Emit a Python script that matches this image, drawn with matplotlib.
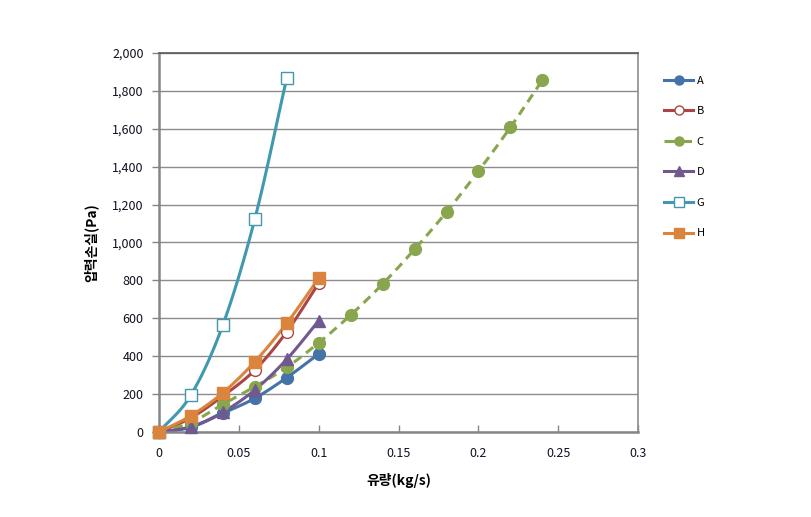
import numpy as np
import matplotlib.pyplot as plt
from matplotlib.ticker import FuncFormatter

plt.rcParams['font.family'] = ['Noto Sans CJK KR', 'DejaVu Sans']

# flow rate (kg/s) and pressure loss (Pa)
x_short = [0, 0.02, 0.04, 0.06, 0.08, 0.1]
x_long = [0, 0.02, 0.04, 0.06, 0.08, 0.1, 0.12, 0.14, 0.16, 0.18, 0.2, 0.22, 0.24]
x_g = [0, 0.02, 0.04, 0.06, 0.08]

a_vals = [0, 25, 99, 178, 287, 412]
b_vals = [0, 75, 190, 327, 529, 785]
c_vals = [0, 50, 146, 239, 341, 471, 617, 781, 964, 1161, 1377, 1608, 1857]
d_vals = [0, 28, 105, 222, 384, 587]
g_vals = [0, 195, 565, 1124, 1868]
h_vals = [0, 86, 207, 371, 574, 811]


def smooth(xs, ys, n=20):
    # catmull-rom style curve through the points (like Excel smoothed lines)
    xs = np.asarray(xs, float)
    ys = np.asarray(ys, float)
    px = np.concatenate([[2 * xs[0] - xs[1]], xs, [2 * xs[-1] - xs[-2]]])
    py = np.concatenate([[2 * ys[0] - ys[1]], ys, [2 * ys[-1] - ys[-2]]])
    ox, oy = [], []
    t = np.linspace(0, 1, n)
    for i in range(1, len(px) - 2):
        for p, out in ((px, ox), (py, oy)):
            p0, p1, p2, p3 = p[i - 1], p[i], p[i + 1], p[i + 2]
            c1 = p1 + (p2 - p0) / 6
            c2 = p2 - (p3 - p1) / 6
            out.extend((1 - t) ** 3 * p1 + 3 * (1 - t) ** 2 * t * c1
                       + 3 * (1 - t) * t ** 2 * c2 + t ** 3 * p2)
    return np.array(ox), np.array(oy)


series = [
    ('A', x_short, a_vals, '#4572A7', 'o', '#4572A7', '-'),
    ('B', x_short, b_vals, '#AA4643', 'o', 'white', '-'),
    ('C', x_long, c_vals, '#89A54E', 'o', '#89A54E', '--'),
    ('D', x_short, d_vals, '#71588F', '^', '#71588F', '-'),
    ('G', x_g, g_vals, '#4198AF', 's', 'white', '-'),
    ('H', x_short, h_vals, '#DB843D', 's', '#DB843D', '-'),
]

fig = plt.figure(figsize=(8.11, 5.17), dpi=100)
ax = fig.add_axes([0.196, 0.1644, 0.591, 0.7331])

handles = []
for name, xs, ys, col, mk, fc, ls in series:
    sx, sy = smooth(xs, ys)
    ax.plot(sx, sy, color=col, lw=2.2, ls=ls, dashes=(3, 2) if ls == '--' else (None, None), zorder=2)
    ax.plot(xs, ys, ls='none', marker=mk, ms=8.5, mfc=fc, mec=col, mew=1.0, zorder=3, clip_on=False)
    h, = ax.plot([], [], color=col, lw=2.2, ls=ls, marker=mk, ms=6.5, mfc=fc, mec=col, mew=1.0)
    handles.append(h)

ax.set_xlim(0, 0.3)
ax.set_ylim(0, 2000)
ax.set_xticks([0, 0.05, 0.1, 0.15, 0.2, 0.25, 0.3])
ax.set_xticklabels(['0', '0.05', '0.1', '0.15', '0.2', '0.25', '0.3'])
ax.set_yticks(np.arange(0, 2001, 200))
ax.yaxis.set_major_formatter(FuncFormatter(lambda v, p: f'{int(v):,}'))
ax.tick_params(labelsize=9, labelcolor='#111122', length=5, color='#868686', width=1)
ax.tick_params(axis='x', direction='in', pad=11)
ax.tick_params(axis='y', direction='out', pad=6)
ax.grid(axis='y', color='#8c8c8c', lw=1)
ax.set_axisbelow(True)
ax.spines['top'].set_color('#595959')
ax.spines['top'].set_linewidth(1.2)
ax.spines['right'].set_color('#8c8c8c')
ax.spines['right'].set_linewidth(1.2)
for s in ['left', 'bottom']:
    ax.spines[s].set_color('#868686')
    ax.spines[s].set_linewidth(1.8)

ax.set_xlabel('유량(kg/s)', fontsize=10, fontweight='bold', labelpad=9)
ax.set_ylabel('압력손실(Pa)', fontsize=10, fontweight='bold', labelpad=10)

fig.legend(handles, [s[0] for s in series], loc='upper left',
           bbox_to_anchor=(0.807, 0.873), frameon=False, fontsize=8,
           handlelength=2.6, labelspacing=1.85, handletextpad=0.3)

fig.savefig('out.png', dpi=100)
